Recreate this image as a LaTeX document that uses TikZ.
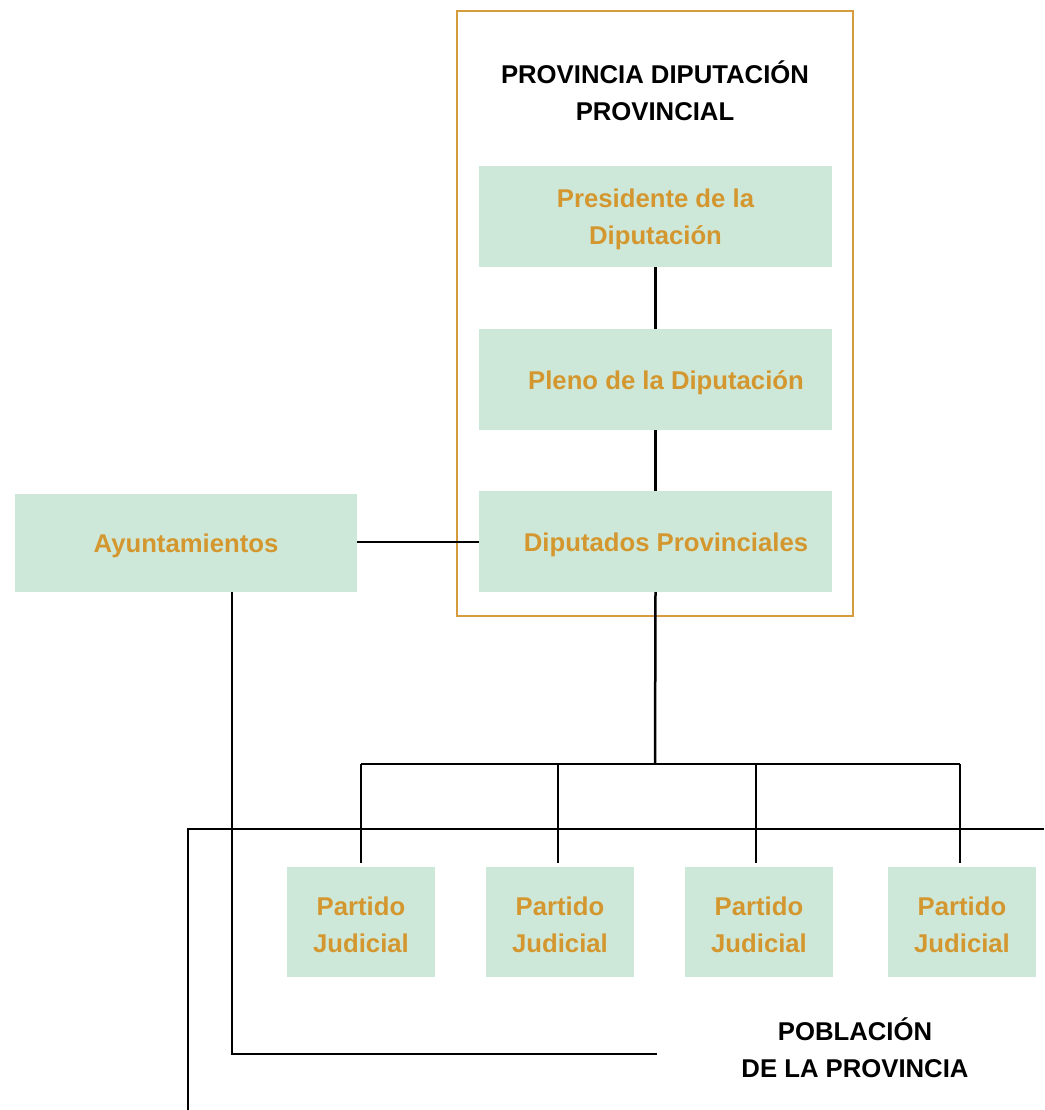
\documentclass[tikz,border=0pt]{standalone}
\usepackage{fontspec}
\setmainfont{Liberation Sans}
\definecolor{gold}{HTML}{D4972F}
\definecolor{goldline}{HTML}{D49C3C}
\definecolor{mint}{HTML}{CDE8D8}
\tikzset{
  txt/.style={font=\fontsize{25.7}{37}\selectfont\bfseries, align=center, inner sep=0pt},
  gtxt/.style={txt, text=gold},
  box/.style={fill=mint, inner sep=0pt},
  wide/.style={box, minimum width=353pt, minimum height=101pt},
  pj/.style={box, minimum width=148pt, minimum height=110pt},
  conn/.style={line width=2.5pt, black},
}
\begin{document}
\begin{tikzpicture}[x=1pt,y=-1pt]
\useasboundingbox (0,0) rectangle (1044,1110);
% outer province box
\node[draw=goldline, line width=2.3pt, minimum width=396pt, minimum height=605pt, inner sep=0pt] (prov) at (655,313.5) {};
\node[txt, text=black] (title) at (655,91) {PROVINCIA DIPUTACIÓN\\PROVINCIAL};
% boxes
\node[wide] (pres) at (655.5,216.5) {};
\node[wide] (pleno) at (655.5,379.5) {};
\node[wide] (dip) at (655.5,541.5) {};
\node[box, minimum width=342pt, minimum height=98pt] (ayu) at (186,543) {};
\node[pj] (pj1) at (361,922) {};
\node[pj] (pj2) at (560,922) {};
\node[pj] (pj3) at (759,922) {};
\node[pj] (pj4) at (962,922) {};
% box texts
\node[gtxt] (presT) at ([yshift=-3pt]pres.center) {Presidente de la\\Diputación};
\node[gtxt] (plenoT) at ([yshift=-3pt,xshift=10.5pt]pleno.center) {Pleno de la Diputación};
\node[gtxt] (dipT) at ([yshift=-3pt,xshift=10.5pt]dip.center) {Diputados Provinciales};
\node[gtxt] (ayuT) at ([yshift=-3pt]ayu.center) {Ayuntamientos};
\node[gtxt] (pj1T) at ([yshift=-3pt]pj1.center) {Partido\\Judicial};
\node[gtxt] (pj2T) at ([yshift=-3pt]pj2.center) {Partido\\Judicial};
\node[gtxt] (pj3T) at ([yshift=-3pt]pj3.center) {Partido\\Judicial};
\node[gtxt] (pj4T) at ([yshift=-3pt]pj4.center) {Partido\\Judicial};
\node[txt, text=black] (pob) at (855,1048) {POBLACIÓN\\DE LA PROVINCIA};
% coordinates
\coordinate (bus) at (655,764);
\coordinate (busl) at (361,764);
\coordinate (busr) at (960,764);
\coordinate (pl) at (657,1054);
\coordinate (la) at (188,1110);
\coordinate (lb) at (1044,829);
% connectors
\draw[conn] (pres.south) -- (pleno.north);
\draw[conn] (pleno.south) -- (dip.north);
\draw[conn] (ayu.east |- 0,542) -- (dip.west |- 0,542);
\draw[conn] (dip.south) -- (bus);
\draw[conn] (busl) -- (busr);
\draw[conn] (busl) -- (busl |- 0,863);
\draw[conn] (558,764) -- (558,863);
\draw[conn] (756,764) -- (756,863);
\draw[conn] (busr) -- (busr |- 0,863);
\draw[conn] ([xshift=46pt]ayu.south) |- (pl);
\draw[conn] (la) |- (lb);
\end{tikzpicture}
\end{document}
